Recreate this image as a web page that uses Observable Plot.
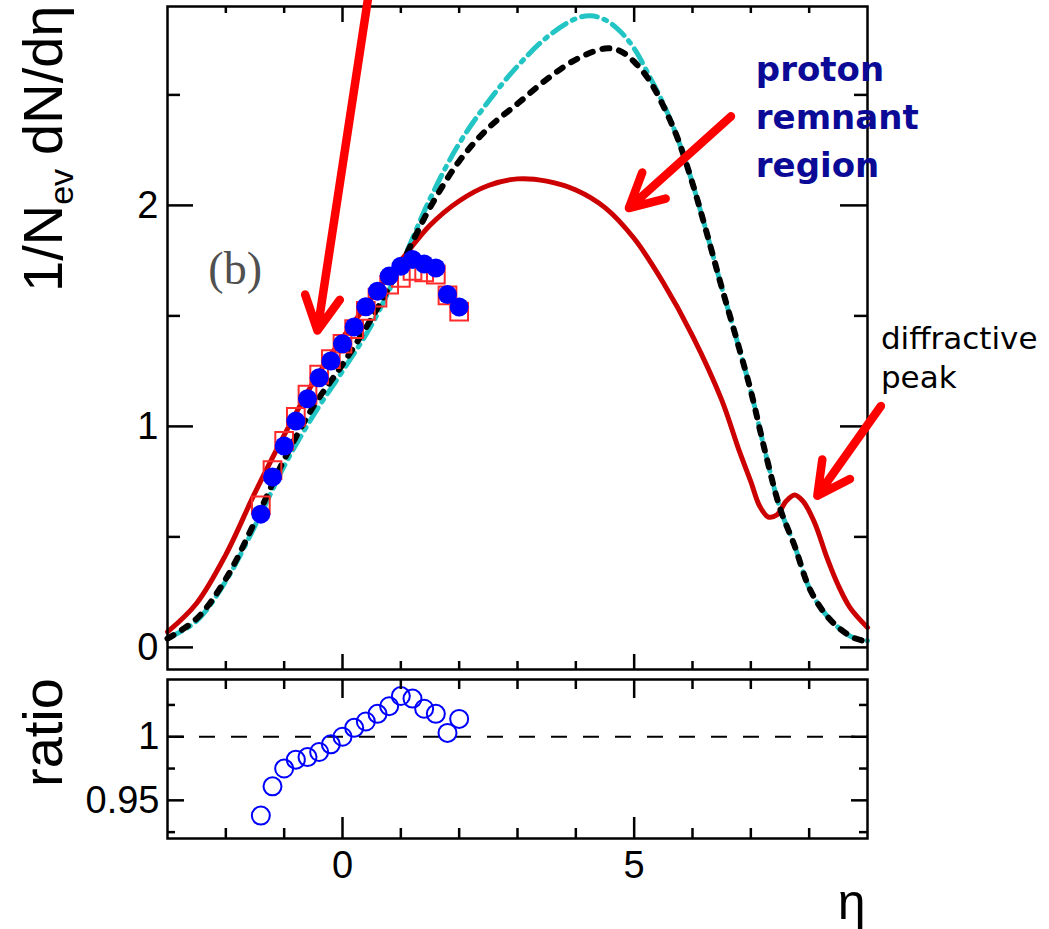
<!DOCTYPE html>
<html>
<head>
<meta charset="utf-8">
<script src="https://cdn.jsdelivr.net/npm/d3@7"></script>
<script src="https://cdn.jsdelivr.net/npm/@observablehq/plot@0.6"></script>
<style>
html, body { margin: 0; padding: 0; background: #ffffff; }
#chart { width: 1049px; height: 929px; background: #ffffff; }
#chart svg { display: block; }
</style>
</head>
<body>
<div id="chart"></div>
<script>
// ---------- data ----------
// measured points (eta bins)
const pointEta = [-1.4, -1.2, -1.0, -0.8, -0.6, -0.4, -0.2, 0.0, 0.2, 0.4, 0.6, 0.8, 1.0, 1.2, 1.4, 1.6, 1.8, 2.0];
const blueCircles = [0.603, 0.771, 0.911, 1.024, 1.125, 1.220, 1.296, 1.374, 1.450, 1.541, 1.612, 1.680, 1.725, 1.755, 1.735, 1.717, 1.597, 1.540];
const redSquares  = [0.643, 0.802, 0.934, 1.043, 1.144, 1.234, 1.304, 1.374, 1.440, 1.523, 1.583, 1.641, 1.672, 1.704, 1.697, 1.687, 1.593, 1.519];
const ratioValues = [0.938, 0.961, 0.975, 0.982, 0.984, 0.988, 0.994, 1.000, 1.007, 1.012, 1.018, 1.024, 1.032, 1.030, 1.022, 1.018, 1.003, 1.014];

// model curves
const redEta = [-3, -2.5, -2, -1.5, -1, -0.5, 0, 0.5, 1, 1.5, 2, 2.5, 3, 3.5, 4, 4.5, 5, 5.5, 6, 6.5, 6.8, 7.0, 7.15, 7.3, 7.45, 7.6, 7.75, 7.9, 8.1, 8.3, 8.5, 8.7, 9];
const redVal = [0.07, 0.20, 0.42, 0.70, 0.96, 1.20, 1.40, 1.58, 1.75, 1.91, 2.02, 2.09, 2.12, 2.11, 2.07, 1.99, 1.85, 1.65, 1.41, 1.12, 0.89, 0.75, 0.64, 0.59, 0.60, 0.66, 0.69, 0.66, 0.56, 0.41, 0.28, 0.18, 0.09];

const blackEta = [-3, -2.5, -2, -1.5, -1, -0.5, 0, 0.5, 1, 1.5, 2, 2.5, 3, 3.5, 4, 4.5, 4.75, 5, 5.25, 5.5, 5.75, 6, 6.25, 6.5, 6.75, 7, 7.25, 7.5, 7.75, 8, 8.25, 8.5, 8.75, 9];
const blackVal = [0.04, 0.13, 0.31, 0.57, 0.85, 1.09, 1.28, 1.49, 1.73, 1.99, 2.20, 2.35, 2.46, 2.57, 2.66, 2.71, 2.70, 2.65, 2.57, 2.45, 2.30, 2.10, 1.87, 1.63, 1.40, 1.16, 0.88, 0.63, 0.46, 0.27, 0.16, 0.09, 0.045, 0.025];

const cyanEta = [-3, -2.5, -2, -1.5, -1, -0.5, 0, 0.5, 1, 1.5, 2, 2.5, 3, 3.5, 4, 4.25, 4.5, 4.75, 5, 5.25, 5.5, 5.75, 6, 6.25, 6.5, 6.75, 7, 7.25, 7.5, 7.75, 8, 8.25, 8.5, 8.75, 9];
const cyanVal = [0.04, 0.12, 0.30, 0.55, 0.82, 1.05, 1.25, 1.46, 1.73, 2.03, 2.28, 2.47, 2.63, 2.76, 2.845, 2.858, 2.84, 2.79, 2.71, 2.59, 2.46, 2.30, 2.10, 1.87, 1.63, 1.40, 1.16, 0.88, 0.63, 0.46, 0.27, 0.16, 0.09, 0.045, 0.03];

// ticks
const xTicksMajor = [0, 5];
const xTicksMinor = [-2, -1, 1, 2, 3, 4, 6, 7, 8];
const yTicksMajor = [0, 1, 2];
const yTicksMinor = [0.5, 1.5, 2.5];
const rTicksMajor = [0.95, 1];
const rTicksMinor = [0.925, 0.975, 1.025];
const xTickLabels = ["0", "5"];
const rTickLabels = ["0.95", "1"];

// annotations (data coordinates)
const arrowsMain = [
  {x1: 0.48, y1: 3.01, x2: -0.43, y2: 1.434},
  {x1: 6.66, y1: 2.403, x2: 4.91, y2: 1.988},
  {x1: 9.23, y1: 1.092, x2: 8.14, y2: 0.686}
];
const noteProton = [{x: 7.086, y: 2.716, text: "proton\nremnant\nregion"}];
const noteDiffractive = [{x: 9.23, y: 1.475, text: "diffractive\npeak"}];
const notePanel = [{x: -2.30, y: 1.79, text: "(b)"}];

// ---------- build tables ----------
const points = pointEta.map((eta, i) => ({eta, circ: blueCircles[i], sq: redSquares[i], ratio: ratioValues[i]}));
const redTable = redEta.map((eta, i) => ({eta, v: redVal[i]}));
const blackTable = blackEta.map((eta, i) => ({eta, v: blackVal[i]}));
const cyanTable = cyanEta.map((eta, i) => ({eta, v: cyanVal[i]}));

// ---------- layout ----------
const W = 1049, ML = 167, MR = 182;
const innerW = W - ML - MR;
const H1 = 675, MT1 = 6, MB1 = 6, innerH1 = H1 - MT1 - MB1;
const H2 = 254, MT2 = 4, MB2 = 91, innerH2 = H2 - MT2 - MB2;
const SANS = "Liberation Sans, Arial, Helvetica, sans-serif";
const TW = 2.5;

const main = Plot.plot({
  width: W, height: H1,
  marginLeft: ML, marginRight: MR, marginTop: MT1, marginBottom: MB1,
  x: {domain: [-3, 9], axis: null},
  y: {domain: [-0.1, 2.9], axis: null},
  style: {background: "#ffffff", fontFamily: SANS, color: "black"},
  marks: [
    Plot.line(cyanTable, {x: "eta", y: "v", stroke: "#22c4c4", strokeWidth: 5, strokeDasharray: "16,7,3,7", curve: "catmull-rom"}),
    Plot.line(redTable, {x: "eta", y: "v", stroke: "#cc0000", strokeWidth: 5, curve: "catmull-rom"}),
    Plot.line(blackTable, {x: "eta", y: "v", stroke: "#000000", strokeWidth: 6, strokeDasharray: "7,10", curve: "catmull-rom"}),
    Plot.dot(points, {x: "eta", y: "sq", symbol: "square", r: 10, stroke: "#ff2a2a", strokeWidth: 2, fill: "none"}),
    Plot.dot(points, {x: "eta", y: "circ", r: 9.5, fill: "#0000ff", stroke: "none"}),
    // inward ticks
    Plot.tickY(yTicksMajor, {y: d => d, insetRight: innerW - 26, stroke: "black", strokeWidth: TW}),
    Plot.tickY(yTicksMajor, {y: d => d, insetLeft: innerW - 27, stroke: "black", strokeWidth: TW}),
    Plot.tickY(yTicksMinor, {y: d => d, insetRight: innerW - 13, stroke: "black", strokeWidth: TW}),
    Plot.tickY(yTicksMinor, {y: d => d, insetLeft: innerW - 13, stroke: "black", strokeWidth: TW}),
    Plot.tickX(xTicksMajor, {x: d => d, insetTop: innerH1 - 15, stroke: "black", strokeWidth: TW}),
    Plot.tickX(xTicksMajor, {x: d => d, insetBottom: innerH1 - 16, stroke: "black", strokeWidth: TW}),
    Plot.tickX(xTicksMinor, {x: d => d, insetTop: innerH1 - 8, stroke: "black", strokeWidth: TW}),
    Plot.tickX(xTicksMinor, {x: d => d, insetBottom: innerH1 - 7, stroke: "black", strokeWidth: TW}),
    Plot.frame({stroke: "black", strokeWidth: TW}),
    Plot.axisY({ticks: yTicksMajor, tickSize: 0, tickPadding: 9, fontSize: 38, label: null, tickFormat: d => String(d)}),
    // annotations
    Plot.text(notePanel, {x: "x", y: "y", text: "text", textAnchor: "start", lineAnchor: "top", fontSize: 46, fontFamily: "Liberation Serif, Times New Roman, serif", fill: "#505050"}),
    Plot.text(noteProton, {x: "x", y: "y", text: "text", textAnchor: "start", lineAnchor: "top", lineHeight: 1.41, fontSize: 34, fontWeight: "bold", fontFamily: "DejaVu Sans, sans-serif", fill: "#0a0a96"}),
    Plot.text(noteDiffractive, {x: "x", y: "y", text: "text", textAnchor: "start", lineAnchor: "top", lineHeight: 1.25, fontSize: 31, fontFamily: "DejaVu Sans, sans-serif", fill: "black"}),
    Plot.arrow(arrowsMain, {x1: "x1", y1: "y1", x2: "x2", y2: "y2", stroke: "#ff0000", strokeWidth: 8.5, headLength: 6.7, headAngle: 55})
  ]
});

const ratioPlot = Plot.plot({
  width: W, height: H2,
  marginLeft: ML, marginRight: MR, marginTop: MT2, marginBottom: MB2,
  x: {domain: [-3, 9], label: null},
  y: {domain: [0.92, 1.045], label: null},
  style: {background: "#ffffff", fontFamily: SANS, color: "black"},
  marks: [
    Plot.ruleY([1], {stroke: "black", strokeWidth: 2, strokeDasharray: "16,16"}),
    Plot.dot(points, {x: "eta", y: "ratio", r: 9, stroke: "#0000ff", strokeWidth: 2, fill: "none"}),
    Plot.tickY(rTicksMajor, {y: d => d, insetRight: innerW - 17, stroke: "black", strokeWidth: TW}),
    Plot.tickY(rTicksMajor, {y: d => d, insetLeft: innerW - 16, stroke: "black", strokeWidth: TW}),
    Plot.tickY(rTicksMinor, {y: d => d, insetRight: innerW - 8, stroke: "black", strokeWidth: TW}),
    Plot.tickY(rTicksMinor, {y: d => d, insetLeft: innerW - 8, stroke: "black", strokeWidth: TW}),
    Plot.tickX(xTicksMajor, {x: d => d, insetTop: innerH2 - 21, stroke: "black", strokeWidth: TW}),
    Plot.tickX(xTicksMajor, {x: d => d, insetBottom: innerH2 - 19, stroke: "black", strokeWidth: TW}),
    Plot.tickX(xTicksMinor, {x: d => d, insetTop: innerH2 - 10, stroke: "black", strokeWidth: TW}),
    Plot.tickX(xTicksMinor, {x: d => d, insetBottom: innerH2 - 10, stroke: "black", strokeWidth: TW}),
    Plot.frame({stroke: "black", strokeWidth: TW}),
    Plot.axisY({ticks: rTicksMajor, tickSize: 0, tickPadding: 8, fontSize: 38, label: null, tickFormat: d => rTickLabels[rTicksMajor.indexOf(d)]}),
    Plot.axisX({ticks: xTicksMajor, tickSize: 0, tickPadding: 13, fontSize: 38, label: null, tickFormat: d => xTickLabels[xTicksMajor.indexOf(d)]}),
    Plot.text(["η"], {frameAnchor: "bottom-right", textAnchor: "end", lineAnchor: "bottom", dx: -2, dy: 80, fontSize: 50})
  ]
});

const chart = document.getElementById("chart");
chart.appendChild(main);
chart.appendChild(ratioPlot);

// rotated axis titles (with subscript)
const t1 = d3.select(main).append("text")
  .attr("transform", "translate(62,292) rotate(-90)")
  .attr("text-anchor", "start")
  .attr("font-family", SANS).attr("font-size", 56).attr("fill", "black");
t1.append("tspan").text("1/N");
t1.append("tspan").attr("font-size", 34).attr("dy", 11).text("ev");
t1.append("tspan").attr("dy", -11).attr("dx", 14).text("dN/dη");

d3.select(ratioPlot).append("text")
  .attr("transform", "translate(62,112) rotate(-90)")
  .attr("text-anchor", "start")
  .attr("font-family", SANS).attr("font-size", 56).attr("fill", "black")
  .text("ratio");
</script>
</body>
</html>
